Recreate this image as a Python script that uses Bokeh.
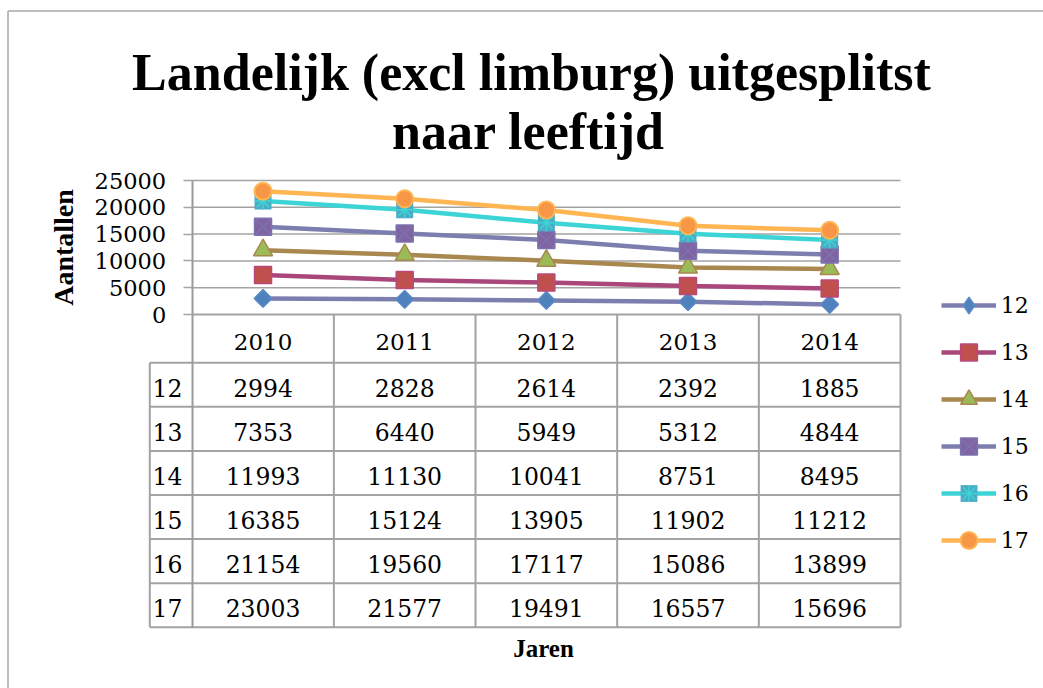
import math
from bokeh.plotting import figure
from bokeh.models import (Range1d, FixedTicker, Label, Legend, LegendItem,
                          NumeralTickFormatter, Arrow, ColumnDataSource)
from bokeh.embed import file_html
from bokeh.resources import INLINE
from bokeh.core.properties import value

# ---------------- data ----------------
years = ["2010", "2011", "2012", "2013", "2014"]
ages = ["12", "13", "14", "15", "16", "17"]
v12 = [2994, 2828, 2614, 2392, 1885]
v13 = [7353, 6440, 5949, 5312, 4844]
v14 = [11993, 11130, 10041, 8751, 8495]
v15 = [16385, 15124, 13905, 11902, 11212]
v16 = [21154, 19560, 17117, 15086, 13899]
v17 = [23003, 21577, 19491, 16557, 15696]
y_ticks = [0, 5000, 10000, 15000, 20000, 25000]
title_lines = ["Landelijk (excl limburg) uitgesplitst", "naar leeftijd"]
y_title = "Aantallen"
x_title = "Jaren"

series = [v12, v13, v14, v15, v16, v17]

# ---------------- layout helpers (page pixels -> data) ----------------
W, H = 1043, 688
COL = 141.66          # px per category
AX = 191.7            # page x of value axis
Y0, Y25 = 314.0, 180.0
PXU = 25000.0 / (Y0 - Y25)
ROW0, ROWH = 362.3, 44.07


def xd(px):
    return -0.5 + (px - AX) / COL


def yd(py):
    return (Y0 - py) * PXU


def ud(py):
    return (py - ROW0) / ROWH


SERIF = "DejaVu Serif"
TSERIF = "Liberation Serif"
GRID = "#a3a3a3"

p = figure(width=W, height=H, output_backend="svg", toolbar_location=None,
           x_range=Range1d(xd(0), xd(W)), y_range=Range1d(yd(H), yd(0)),
           min_border_left=0, min_border_right=0,
           min_border_top=0, min_border_bottom=0)
p.extra_y_ranges = {"table": Range1d(ud(H), ud(0))}
p.outline_line_color = None
p.background_fill_color = "white"
p.border_fill_color = "white"
p.xgrid.visible = False
p.ygrid.visible = False
p.xaxis.visible = False

yax = p.yaxis[0]
yax.ticker = FixedTicker(ticks=y_ticks)
yax.formatter = NumeralTickFormatter(format="0")
yax.fixed_location = -0.5
yax.bounds = (yd(ROW0 + 6 * ROWH), y_ticks[-1])
yax.axis_line_color = "#9a9a9a"
yax.axis_line_width = 2
yax.major_tick_out = 9
yax.major_tick_in = 0
yax.major_tick_line_color = GRID
yax.major_tick_line_width = 1.5
yax.minor_tick_line_color = None
yax.major_label_text_font = SERIF
yax.major_label_text_font_size = "22.5px"
yax.major_label_text_color = "black"
yax.major_label_standoff = 17

# gridlines (value ticks above zero)
gy = y_ticks[1:]
p.segment(x0=[-0.5] * len(gy), x1=[4.5] * len(gy), y0=gy, y1=gy,
          line_color=GRID, line_width=1.5)

# ---------------- data table ----------------
n = len(years)
p.segment(x0=[-0.5], x1=[n - 0.5], y0=[0], y1=[0], line_color=GRID, line_width=2)
hr = list(range(len(ages) + 1))
p.segment(x0=[xd(149.3)] * len(hr), x1=[n - 0.5] * len(hr), y0=hr, y1=hr,
          line_color=GRID, line_width=2, y_range_name="table")
vx = [i + 0.5 for i in range(n)]
p.segment(x0=vx, x1=vx, y0=[ud(Y0)] * n, y1=[len(ages)] * n,
          line_color=GRID, line_width=2, y_range_name="table")
p.segment(x0=[xd(149.3)], x1=[xd(149.3)], y0=[0], y1=[len(ages)],
          line_color=GRID, line_width=2, y_range_name="table")

p.text(x=list(range(n)), y=[ud(341)] * n, text=years,
       text_font=value(SERIF), text_font_size="23px", text_align="center",
       text_baseline="middle", text_color="black", y_range_name="table")
tx, ty, tt = [], [], []
for k, (age, vals) in enumerate(zip(ages, series)):
    tx.append(xd(167))
    ty.append(k + 0.5 + 3 / ROWH)
    tt.append(age)
    for i, v in enumerate(vals):
        tx.append(i)
        ty.append(k + 0.5 + 3 / ROWH)
        tt.append(str(v))
p.text(x=tx, y=ty, text=tt, text_font=value(SERIF), text_font_size="23.5px",
       text_align="center", text_baseline="middle", text_color="black",
       y_range_name="table")

# ---------------- series ----------------
xs = list(range(n))
line_colors = ["#7C7EB0", "#A9467A", "#A98850", "#7C7EB0", "#3CD4D4", "#FFB552"]
items = []
for k, (age, vals) in enumerate(zip(ages, series)):
    src = ColumnDataSource(dict(x=xs, y=vals))
    rl = p.line("x", "y", source=src, line_color=line_colors[k], line_width=4.5)
    rs = []
    if k == 0:
        p.scatter("x", "y", source=src, marker="square", angle=math.pi / 4,
                  size=12.5, fill_color="#4F81BD", line_color="#5B8AC4",
                  line_width=1.5)
        # legend sample (legend markers are drawn unrotated)
        rs.append(p.scatter("x", "y", source=src, marker="diamond", size=17,
                            fill_color="#4F81BD", line_color="#5B8AC4",
                            line_width=1.5, visible=False))
    elif k == 1:
        rs.append(p.scatter("x", "y", source=src, marker="square", size=17,
                            fill_color="#C0504D", line_color="#B8487C", line_width=1.5))
    elif k == 2:
        rs.append(p.scatter("x", "y", source=src, marker="triangle", size=19,
                            fill_color="#9BBB59", line_color="#A98850", line_width=1.5))
    elif k == 3:
        rs.append(p.scatter("x", "y", source=src, marker="square_x", size=17,
                            fill_color="#8064A2", line_color="#7C72AE", line_width=1.5))
    elif k == 4:
        rs.append(p.scatter("x", "y", source=src, marker="square", size=17,
                            fill_color="#4BACC6", line_color=None))
        rs.append(p.scatter("x", "y", source=src, marker="asterisk", size=17,
                            line_color="#3CD4D4", line_width=1.5))
    else:
        rs.append(p.scatter("x", "y", source=src, marker="circle", size=17,
                            fill_color="#F79646", line_color="#FFB552", line_width=2))
    items.append(LegendItem(label=age, renderers=[rl] + rs))

legend = Legend(items=items, location=(940.7, H - 561),
                orientation="vertical", border_line_color=None,
                background_fill_alpha=0, padding=0, margin=0, spacing=5,
                glyph_width=55, glyph_height=42, label_height=42,
                label_standoff=5, label_text_font=SERIF,
                label_text_font_size="22px", label_text_color="black")
p.add_layout(legend)

# ---------------- texts ----------------
p.add_layout(Label(x=xd(531), y=yd(72), text=title_lines[0], text_align="center",
                   text_baseline="middle", text_font=TSERIF,
                   text_font_style="bold", text_font_size="52px", text_color="black"))
p.add_layout(Label(x=xd(528), y=yd(131), text=title_lines[1], text_align="center",
                   text_baseline="middle", text_font=TSERIF,
                   text_font_style="bold", text_font_size="52px", text_color="black"))
p.add_layout(Label(x=xd(63), y=yd(247), text=y_title, angle=math.pi / 2,
                   text_align="center", text_baseline="middle", text_font=TSERIF,
                   text_font_style="bold", text_font_size="28px", text_color="black"))
p.add_layout(Label(x=xd(543), y=yd(648), text=x_title, text_align="center",
                   text_baseline="middle", text_font=TSERIF,
                   text_font_style="bold", text_font_size="25px", text_color="black"))

# chart area border
p.add_layout(Arrow(end=None, x_start=xd(7.5), x_end=xd(7.5), y_start=yd(10.5),
                   y_end=yd(700), line_color="#a8a8a8", line_width=1.5))
p.add_layout(Arrow(end=None, x_start=xd(7.5), x_end=xd(1100), y_start=yd(10.5),
                   y_end=yd(10.5), line_color="#a8a8a8", line_width=1.5))

open("out.html", "w").write(file_html(p, INLINE))
